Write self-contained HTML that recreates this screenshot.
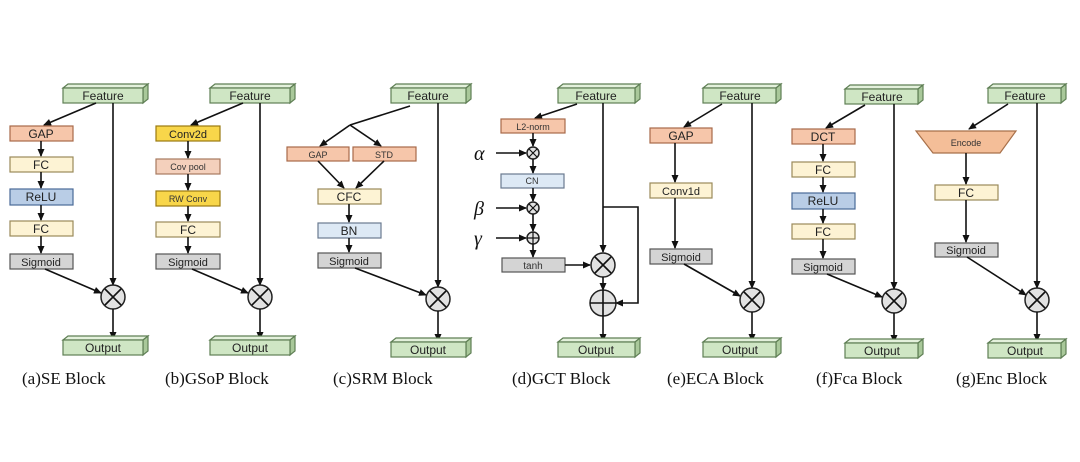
<!DOCTYPE html>
<html><head><meta charset="utf-8"><style>
html,body{margin:0;padding:0;background:#fff;}
svg{display:block;}
text{font-family:"Liberation Sans",sans-serif;}
.cap{font-family:"Liberation Serif",serif;font-size:17px;fill:#111;}
.ln{stroke:#111;stroke-width:1.6;fill:none;}
.fr{fill:#cfe6c4;stroke:#5f7f55;stroke-width:1.2;}
.tp{fill:#e4f1dc;stroke:#5f7f55;stroke-width:1.2;}
.sd{fill:#a9c89a;stroke:#5f7f55;stroke-width:1.2;}
.bt{font-size:12px;fill:#222;text-anchor:middle;}
.sm{font-size:9px;fill:#333;text-anchor:middle;}
.gap{fill:#f6c6aa;stroke:#a86a4a;stroke-width:1.2;}
.fc{fill:#fdf3d4;stroke:#9a8a5a;stroke-width:1.2;}
.relu{fill:#b9cde6;stroke:#4a6a98;stroke-width:1.2;}
.sig{fill:#d4d4d4;stroke:#555;stroke-width:1.2;}
.yel{fill:#f8d64a;stroke:#9a7a10;stroke-width:1.2;}
.cov{fill:#f4d0bc;stroke:#a87a60;stroke-width:1.2;}
.bn{fill:#dde9f5;stroke:#6a7a90;stroke-width:1.2;}
.op{fill:#e2e2e2;stroke:#222;stroke-width:1.5;}
.gk{font-family:"Liberation Serif",serif;font-style:italic;font-size:20px;fill:#111;}
</style></head><body>
<svg width="1080" height="462" viewBox="0 0 1080 462" xmlns="http://www.w3.org/2000/svg">
<defs><marker id="a" markerWidth="8" markerHeight="8" refX="7" refY="4" orient="auto" markerUnits="userSpaceOnUse"><path d="M0,0.5 L8,4 L0,7.5z" fill="#111"/></marker></defs>

<!-- (a) SE -->
<polygon class="tp" points="63,88 68,84 148,84 143,88"/><polygon class="sd" points="143,88 148,84 148,99 143,103"/><rect class="fr" x="63" y="88" width="80" height="15"/><text class="bt" x="103" y="100">Feature</text>
<line class="ln" x1="96" y1="103" x2="44" y2="125" marker-end="url(#a)"/>
<rect class="gap" x="10" y="126" width="63" height="15"/><text class="bt" x="41" y="138">GAP</text>
<rect class="fc" x="10" y="157" width="63" height="15"/><text class="bt" x="41" y="169">FC</text>
<rect class="relu" x="10" y="189" width="63" height="16"/><text class="bt" x="41" y="201">ReLU</text>
<rect class="fc" x="10" y="221" width="63" height="15"/><text class="bt" x="41" y="233">FC</text>
<rect class="sig" x="10" y="254" width="63" height="15"/><text class="bt" x="41" y="266" style="font-size:11px">Sigmoid</text>
<line class="ln" x1="41" y1="141" x2="41" y2="156" marker-end="url(#a)"/><line class="ln" x1="41" y1="172" x2="41" y2="188" marker-end="url(#a)"/><line class="ln" x1="41" y1="205" x2="41" y2="220" marker-end="url(#a)"/><line class="ln" x1="41" y1="236" x2="41" y2="253" marker-end="url(#a)"/>
<line class="ln" x1="45" y1="269" x2="101" y2="293" marker-end="url(#a)"/>
<line class="ln" x1="113" y1="103" x2="113" y2="285" marker-end="url(#a)"/>
<circle class="op" cx="113" cy="297" r="12"/><path class="ln" d="M105,289 L121,305 M121,289 L105,305"/>
<line class="ln" x1="113" y1="309" x2="113" y2="339" marker-end="url(#a)"/>
<polygon class="tp" points="63,340 68,336 148,336 143,340"/><polygon class="sd" points="143,340 148,336 148,351 143,355"/><rect class="fr" x="63" y="340" width="80" height="15"/><text class="bt" x="103" y="352">Output</text>
<text class="cap" x="22" y="384">(a)SE Block</text>

<!-- (b) GSoP -->
<polygon class="tp" points="210,88 215,84 295,84 290,88"/><polygon class="sd" points="290,88 295,84 295,99 290,103"/><rect class="fr" x="210" y="88" width="80" height="15"/><text class="bt" x="250" y="100">Feature</text>
<line class="ln" x1="243" y1="103" x2="191" y2="125" marker-end="url(#a)"/>
<rect class="yel" x="156" y="126" width="64" height="15"/><text class="bt" x="188" y="138" style="font-size:11px">Conv2d</text>
<rect class="cov" x="156" y="159" width="64" height="15"/><text class="sm" x="188" y="170">Cov pool</text>
<rect class="yel" x="156" y="191" width="64" height="15"/><text class="sm" x="188" y="202">RW Conv</text>
<rect class="fc" x="156" y="222" width="64" height="15"/><text class="bt" x="188" y="234">FC</text>
<rect class="sig" x="156" y="254" width="64" height="15"/><text class="bt" x="188" y="266" style="font-size:11px">Sigmoid</text>
<line class="ln" x1="188" y1="141" x2="188" y2="158" marker-end="url(#a)"/><line class="ln" x1="188" y1="174" x2="188" y2="190" marker-end="url(#a)"/><line class="ln" x1="188" y1="206" x2="188" y2="221" marker-end="url(#a)"/><line class="ln" x1="188" y1="237" x2="188" y2="253" marker-end="url(#a)"/>
<line class="ln" x1="192" y1="269" x2="248" y2="293" marker-end="url(#a)"/>
<line class="ln" x1="260" y1="103" x2="260" y2="285" marker-end="url(#a)"/>
<circle class="op" cx="260" cy="297" r="12"/><path class="ln" d="M252,289 L268,305 M268,289 L252,305"/>
<line class="ln" x1="260" y1="309" x2="260" y2="339" marker-end="url(#a)"/>
<polygon class="tp" points="210,340 215,336 295,336 290,340"/><polygon class="sd" points="290,340 295,336 295,351 290,355"/><rect class="fr" x="210" y="340" width="80" height="15"/><text class="bt" x="250" y="352">Output</text>
<text class="cap" x="165" y="384">(b)GSoP Block</text>

<!-- (c) SRM -->
<polygon class="tp" points="391,88 396,84 471,84 466,88"/><polygon class="sd" points="466,88 471,84 471,99 466,103"/><rect class="fr" x="391" y="88" width="75" height="15"/><text class="bt" x="428" y="100">Feature</text>
<line class="ln" x1="410" y1="106" x2="350" y2="125"/>
<line class="ln" x1="350" y1="125" x2="320" y2="146" marker-end="url(#a)"/>
<line class="ln" x1="350" y1="125" x2="381" y2="146" marker-end="url(#a)"/>
<rect class="gap" x="287" y="147" width="62" height="14"/><text class="sm" x="318" y="158">GAP</text>
<rect class="gap" x="353" y="147" width="63" height="14"/><text class="sm" x="384" y="158">STD</text>
<line class="ln" x1="318" y1="161" x2="344" y2="188" marker-end="url(#a)"/>
<line class="ln" x1="384" y1="161" x2="356" y2="188" marker-end="url(#a)"/>
<rect class="fc" x="318" y="189" width="63" height="15"/><text class="bt" x="349" y="201">CFC</text>
<rect class="bn" x="318" y="223" width="63" height="15"/><text class="bt" x="349" y="235">BN</text>
<rect class="sig" x="318" y="253" width="63" height="15"/><text class="bt" x="349" y="265" style="font-size:11px">Sigmoid</text>
<line class="ln" x1="349" y1="204" x2="349" y2="222" marker-end="url(#a)"/><line class="ln" x1="349" y1="238" x2="349" y2="252" marker-end="url(#a)"/>
<line class="ln" x1="355" y1="268" x2="426" y2="295" marker-end="url(#a)"/>
<line class="ln" x1="438" y1="103" x2="438" y2="287" marker-end="url(#a)"/>
<circle class="op" cx="438" cy="299" r="12"/><path class="ln" d="M430,291 L446,307 M446,291 L430,307"/>
<line class="ln" x1="438" y1="311" x2="438" y2="341" marker-end="url(#a)"/>
<polygon class="tp" points="391,342 396,338 471,338 466,342"/><polygon class="sd" points="466,342 471,338 471,353 466,357"/><rect class="fr" x="391" y="342" width="75" height="15"/><text class="bt" x="428" y="354">Output</text>
<text class="cap" x="333" y="384">(c)SRM Block</text>

<!-- (d) GCT -->
<polygon class="tp" points="558,88 563,84 640,84 635,88"/><polygon class="sd" points="635,88 640,84 640,99 635,103"/><rect class="fr" x="558" y="88" width="77" height="15"/><text class="bt" x="596" y="100">Feature</text>
<line class="ln" x1="577" y1="104" x2="535" y2="118" marker-end="url(#a)"/>
<rect class="gap" x="501" y="119" width="64" height="14"/><text class="sm" x="533" y="130">L2-norm</text>
<line class="ln" x1="533" y1="133" x2="533" y2="146" marker-end="url(#a)"/>
<circle class="op" cx="533" cy="153" r="6"/><path class="ln" style="stroke-width:1.2" d="M529,149 L537,157 M537,149 L529,157"/>
<text class="gk" x="474" y="160">α</text><line class="ln" x1="496" y1="153" x2="526" y2="153" marker-end="url(#a)"/>
<line class="ln" x1="533" y1="159" x2="533" y2="173" marker-end="url(#a)"/>
<rect class="bn" x="501" y="174" width="63" height="14"/><text class="sm" x="532" y="184">CN</text>
<line class="ln" x1="533" y1="188" x2="533" y2="201" marker-end="url(#a)"/>
<circle class="op" cx="533" cy="208" r="6"/><path class="ln" style="stroke-width:1.2" d="M529,204 L537,212 M537,204 L529,212"/>
<text class="gk" x="474" y="215">β</text><line class="ln" x1="496" y1="208" x2="526" y2="208" marker-end="url(#a)"/>
<line class="ln" x1="533" y1="214" x2="533" y2="231" marker-end="url(#a)"/>
<circle class="op" cx="533" cy="238" r="6"/><path class="ln" style="stroke-width:1.2" d="M527,238 L539,238 M533,232 L533,244"/>
<text class="gk" x="474" y="245">γ</text><line class="ln" x1="496" y1="238" x2="526" y2="238" marker-end="url(#a)"/>
<line class="ln" x1="533" y1="244" x2="533" y2="257" marker-end="url(#a)"/>
<rect class="sig" x="502" y="258" width="63" height="14"/><text class="sm" x="533" y="269" style="font-size:10px">tanh</text>
<line class="ln" x1="565" y1="265" x2="590" y2="265" marker-end="url(#a)"/>
<line class="ln" x1="603" y1="103" x2="603" y2="252" marker-end="url(#a)"/>
<polyline class="ln" points="603,207 638,207 638,303 616,303" marker-end="url(#a)"/>
<circle class="op" cx="603" cy="265" r="12"/><path class="ln" d="M595,257 L611,273 M611,257 L595,273"/>
<line class="ln" x1="603" y1="277" x2="603" y2="290" marker-end="url(#a)"/>
<circle class="op" cx="603" cy="303" r="13"/><path class="ln" d="M590,303 L616,303 M603,290 L603,316"/>
<line class="ln" x1="603" y1="316" x2="603" y2="341" marker-end="url(#a)"/>
<polygon class="tp" points="558,342 563,338 640,338 635,342"/><polygon class="sd" points="635,342 640,338 640,353 635,357"/><rect class="fr" x="558" y="342" width="77" height="15"/><text class="bt" x="596" y="354">Output</text>
<text class="cap" x="512" y="384">(d)GCT Block</text>

<!-- (e) ECA -->
<polygon class="tp" points="703,88 708,84 781,84 776,88"/><polygon class="sd" points="776,88 781,84 781,99 776,103"/><rect class="fr" x="703" y="88" width="73" height="15"/><text class="bt" x="740" y="100">Feature</text>
<line class="ln" x1="722" y1="104" x2="684" y2="127" marker-end="url(#a)"/>
<rect class="gap" x="650" y="128" width="62" height="15"/><text class="bt" x="681" y="140">GAP</text>
<rect class="fc" x="650" y="183" width="62" height="15"/><text class="bt" x="681" y="195" style="font-size:11px">Conv1d</text>
<rect class="sig" x="650" y="249" width="62" height="15"/><text class="bt" x="681" y="261" style="font-size:11px">Sigmoid</text>
<line class="ln" x1="675" y1="143" x2="675" y2="182" marker-end="url(#a)"/><line class="ln" x1="675" y1="198" x2="675" y2="248" marker-end="url(#a)"/>
<line class="ln" x1="684" y1="264" x2="740" y2="296" marker-end="url(#a)"/>
<line class="ln" x1="752" y1="103" x2="752" y2="288" marker-end="url(#a)"/>
<circle class="op" cx="752" cy="300" r="12"/><path class="ln" d="M744,292 L760,308 M760,292 L744,308"/>
<line class="ln" x1="752" y1="312" x2="752" y2="341" marker-end="url(#a)"/>
<polygon class="tp" points="703,342 708,338 781,338 776,342"/><polygon class="sd" points="776,342 781,338 781,353 776,357"/><rect class="fr" x="703" y="342" width="73" height="15"/><text class="bt" x="740" y="354">Output</text>
<text class="cap" x="667" y="384">(e)ECA Block</text>

<!-- (f) Fca -->
<polygon class="tp" points="845,89 850,85 923,85 918,89"/><polygon class="sd" points="918,89 923,85 923,100 918,104"/><rect class="fr" x="845" y="89" width="73" height="15"/><text class="bt" x="882" y="101">Feature</text>
<line class="ln" x1="865" y1="105" x2="826" y2="128" marker-end="url(#a)"/>
<rect class="gap" x="792" y="129" width="63" height="15"/><text class="bt" x="823" y="141">DCT</text>
<rect class="fc" x="792" y="162" width="63" height="15"/><text class="bt" x="823" y="174">FC</text>
<rect class="relu" x="792" y="193" width="63" height="16"/><text class="bt" x="823" y="205">ReLU</text>
<rect class="fc" x="792" y="224" width="63" height="15"/><text class="bt" x="823" y="236">FC</text>
<rect class="sig" x="792" y="259" width="63" height="15"/><text class="bt" x="823" y="271" style="font-size:11px">Sigmoid</text>
<line class="ln" x1="823" y1="144" x2="823" y2="161" marker-end="url(#a)"/><line class="ln" x1="823" y1="177" x2="823" y2="192" marker-end="url(#a)"/><line class="ln" x1="823" y1="209" x2="823" y2="223" marker-end="url(#a)"/><line class="ln" x1="823" y1="239" x2="823" y2="258" marker-end="url(#a)"/>
<line class="ln" x1="827" y1="274" x2="882" y2="297" marker-end="url(#a)"/>
<line class="ln" x1="894" y1="104" x2="894" y2="289" marker-end="url(#a)"/>
<circle class="op" cx="894" cy="301" r="12"/><path class="ln" d="M886,293 L902,309 M902,293 L886,309"/>
<line class="ln" x1="894" y1="313" x2="894" y2="342" marker-end="url(#a)"/>
<polygon class="tp" points="845,343 850,339 923,339 918,343"/><polygon class="sd" points="918,343 923,339 923,354 918,358"/><rect class="fr" x="845" y="343" width="73" height="15"/><text class="bt" x="882" y="355">Output</text>
<text class="cap" x="816" y="384">(f)Fca Block</text>

<!-- (g) Enc -->
<polygon class="tp" points="988,88 993,84 1066,84 1061,88"/><polygon class="sd" points="1061,88 1066,84 1066,99 1061,103"/><rect class="fr" x="988" y="88" width="73" height="15"/><text class="bt" x="1025" y="100">Feature</text>
<line class="ln" x1="1008" y1="104" x2="969" y2="129" marker-end="url(#a)"/>
<polygon points="916,131 1016,131 1000,153 933,153" style="fill:#f4be98;stroke:#a8704a;stroke-width:1.2"/><text class="sm" x="966" y="146">Encode</text>
<rect class="fc" x="935" y="185" width="63" height="15"/><text class="bt" x="966" y="197">FC</text>
<rect class="sig" x="935" y="243" width="63" height="14"/><text class="bt" x="966" y="254" style="font-size:11px">Sigmoid</text>
<line class="ln" x1="966" y1="153" x2="966" y2="184" marker-end="url(#a)"/><line class="ln" x1="966" y1="200" x2="966" y2="242" marker-end="url(#a)"/>
<line class="ln" x1="967" y1="257" x2="1026" y2="295" marker-end="url(#a)"/>
<line class="ln" x1="1037" y1="103" x2="1037" y2="288" marker-end="url(#a)"/>
<circle class="op" cx="1037" cy="300" r="12"/><path class="ln" d="M1029,292 L1045,308 M1045,292 L1029,308"/>
<line class="ln" x1="1037" y1="312" x2="1037" y2="341" marker-end="url(#a)"/>
<polygon class="tp" points="988,343 993,339 1066,339 1061,343"/><polygon class="sd" points="1061,343 1066,339 1066,354 1061,358"/><rect class="fr" x="988" y="343" width="73" height="15"/><text class="bt" x="1025" y="355">Output</text>
<text class="cap" x="956" y="384">(g)Enc Block</text>
</svg>
</body></html>
